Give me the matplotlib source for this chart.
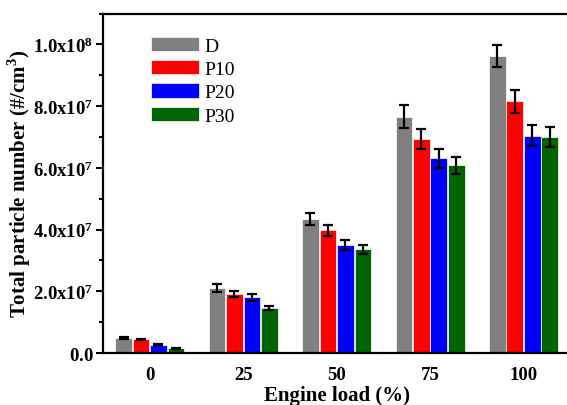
"""
Total particle number vs engine load for D, P10, P20 and P30 fuels
"""

import matplotlib.pyplot as plt
import numpy as np
from matplotlib.ticker import MultipleLocator, FuncFormatter

plt.rcParams['font.family'] = 'Liberation Serif'
plt.rcParams['mathtext.fontset'] = 'custom'
plt.rcParams['mathtext.rm'] = 'Liberation Serif'
plt.rcParams['mathtext.bf'] = 'Liberation Serif:bold'

loads = ['0', '25', '50', '75', '100']
fuels = ['D', 'P10', 'P20', 'P30']

# particle number (#/cm3) and error bars
pn_D = [0.485e7, 2.11e7, 4.34e7, 7.66e7, 9.63e7]
pn_P10 = [0.44e7, 1.90e7, 3.98e7, 6.93e7, 8.16e7]
pn_P20 = [0.27e7, 1.80e7, 3.50e7, 6.31e7, 7.04e7]
pn_P30 = [0.15e7, 1.46e7, 3.36e7, 6.08e7, 7.01e7]

err_D = [0.03e7, 0.12e7, 0.19e7, 0.37e7, 0.36e7]
err_P10 = [0.03e7, 0.10e7, 0.18e7, 0.33e7, 0.38e7]
err_P20 = [0.02e7, 0.10e7, 0.15e7, 0.30e7, 0.34e7]
err_P30 = [0.02e7, 0.07e7, 0.14e7, 0.28e7, 0.33e7]

colors = ['#808080', '#ff0000', '#0000ff', '#006400']

fig = plt.figure(figsize=(5.67, 4.06), dpi=100)
ax = fig.add_axes([0.1817, 0.128, 0.824, 0.836])

x = np.arange(len(loads))
step = 0.187
width = 0.178
series = [pn_D, pn_P10, pn_P20, pn_P30]
errors = [err_D, err_P10, err_P20, err_P30]
for k, (vals, errs) in enumerate(zip(series, errors)):
    ax.bar(x + (k - 1.5) * step, vals, width, color=colors[k], edgecolor='white',
           linewidth=0.5, label=fuels[k],
           yerr=errs, error_kw=dict(ecolor='black', elinewidth=1.6, capsize=3.5, capthick=1.6))

ax.set_xlim(-0.5, 4.5)
ax.set_ylim(0, 1.1e8)
ax.set_xticks(x)
ax.set_xticklabels(loads, fontsize=13.5, fontweight='bold')
ax.tick_params(axis='x', length=0, pad=9)

ax.yaxis.set_major_locator(MultipleLocator(2e7))
ax.yaxis.set_minor_locator(MultipleLocator(1e7))


def sci_fmt(v, pos):
    if v <= 0:
        return r'$\mathbf{0.0}$'
    exp = int(np.floor(np.log10(v)))
    return r'$\mathbf{%.1fx10^{%d}}$' % (v / 10 ** exp, exp)


ax.yaxis.set_major_formatter(FuncFormatter(sci_fmt))
ax.tick_params(axis='y', which='major', direction='out', length=5, width=1.5, labelsize=13.5, pad=2)
ax.tick_params(axis='y', which='minor', direction='out', length=3, width=1.5)

for side in ['left', 'top', 'bottom', 'right']:
    ax.spines[side].set_linewidth(1.6)

ax.set_xlabel('Engine load (%)', fontsize=15, fontweight='bold', labelpad=2)
ax.set_ylabel(r'Total particle number (#/cm$^\mathbf{3}$)', fontsize=15, fontweight='bold', labelpad=0)

ax.legend(loc='upper left', bbox_to_anchor=(0.085, 0.955), frameon=False, fontsize=14,
          handlelength=2.5, handleheight=0.75, handletextpad=0.25, labelspacing=0.28,
          borderaxespad=0)

plt.savefig('out.png', dpi=100)
